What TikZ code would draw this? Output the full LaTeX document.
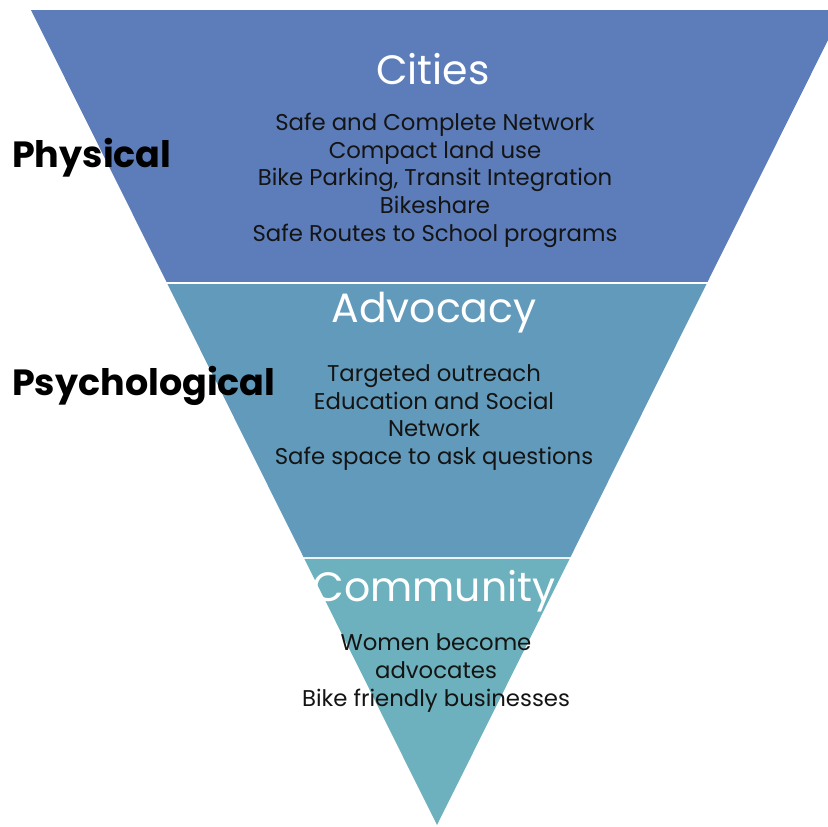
\documentclass[tikz,border=0pt]{standalone}
\usepackage{fontspec}
\setmainfont{Poppins}
\usepackage{tikz}
\usetikzlibrary{calc,positioning}

\definecolor{citycol}{RGB}{92,125,185}
\definecolor{advcol}{RGB}{97,154,187}
\definecolor{comcol}{RGB}{108,177,189}
\definecolor{txtcol}{RGB}{20,20,20}

\begin{document}
\begin{tikzpicture}[x=1pt,y=-1pt]
    \tikzstyle{head} = [white, anchor=base, inner sep=0pt, font=\fontsize{41}{41}\selectfont]
    \tikzstyle{line} = [txtcol, anchor=base, inner sep=0pt, font=\fontsize{22.8}{22.8}\selectfont]
    \tikzstyle{side} = [black, anchor=base west, inner sep=0pt, font=\fontsize{36.5}{36.5}\selectfont\bfseries]
    \useasboundingbox (0,0) rectangle (828,827);

    \coordinate (tl) at (31,10);
    \coordinate (tr) at (843,10);
    \coordinate (ap) at (437,825);

    \fill[citycol] (tl) -- (tr) -- ($(tr)!0.3337!(ap)$) -- ($(tl)!0.3337!(ap)$) -- cycle;
    \fill[advcol] ($(tl)!0.3362!(ap)$) -- ($(tr)!0.3362!(ap)$) -- ($(tr)!0.6712!(ap)$) -- ($(tl)!0.6712!(ap)$) -- cycle;
    \fill[comcol] ($(tl)!0.6736!(ap)$) -- ($(tr)!0.6736!(ap)$) -- (ap) -- cycle;

    \node[head] (cities) at (433,84) {Cities};
    \node[line] (c1) at (435,130) {Safe and Complete Network};
    \node[line] (c2) at (435,158) {Compact land use};
    \node[line] (c3) at (435,185) {Bike Parking, Transit Integration};
    \node[line] (c4) at (435,213) {Bikeshare};
    \node[line] (c5) at (435,241) {Safe Routes to School programs};

    \node[head] (advocacy) at (434,322) {Advocacy};
    \node[line] (a1) at (434,381) {Targeted outreach};
    \node[line] (a2) at (434,409) {Education and Social};
    \node[line] (a3) at (434,436) {Network};
    \node[line] (a4) at (434,464) {Safe space to ask questions};

    \node[head] (community) at (434,601) {Community};
    \node[line] (m1) at (436,650) {Women become};
    \node[line] (m2) at (436,678) {advocates};
    \node[line] (m3) at (436,706) {Bike friendly businesses};

    \node[side] (phys) at (12,167) {Physical};
    \node[side] (psych) at (12,395) {Psychological};
\end{tikzpicture}
\end{document}
